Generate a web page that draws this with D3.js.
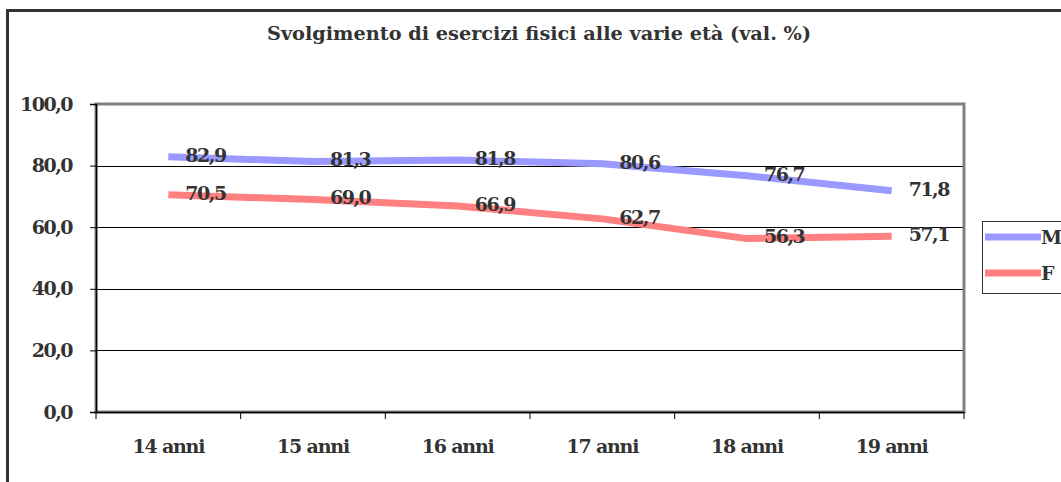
<!DOCTYPE html>
<html><head><meta charset="utf-8">
<script src="https://cdn.jsdelivr.net/npm/d3@7"></script>
<style>
html,body{margin:0;padding:0;background:#fff;}
svg{display:block;}
text{font-family:"DejaVu Serif",serif;font-weight:bold;fill:#333;}
</style></head>
<body>
<script>
const categories = ["14 anni","15 anni","16 anni","17 anni","18 anni","19 anni"];
const seriesM = [82.9, 81.3, 81.8, 80.6, 76.7, 71.8];
const seriesF = [70.5, 69.0, 66.9, 62.7, 56.3, 57.1];
const seriesNames = ["M","F"];
const yTicks = [0,20,40,60,80,100];
const title = "Svolgimento di esercizi fisici alle varie età (val. %)";

(function(){
const W = 1061, H = 482;
const svg = d3.select("body").append("svg").attr("width", W).attr("height", H);
const fmt = v => d3.format(".1f")(v).replace(".", ",");

// outer border
svg.append("rect").attr("x", 7.5).attr("y", 10.5).attr("width", W + 10).attr("height", H + 10)
  .attr("fill", "none").attr("stroke", "#333").attr("stroke-width", 3);

const pL = 96, pR = 964, pT = 104, pB = 412;
const x = d3.scaleBand().domain(categories).range([pL, pR]);
const y = d3.scaleLinear().domain([0, 100]).range([pB, pT]);

svg.append("text").attr("x", 539).attr("y", 40).attr("text-anchor", "middle")
  .style("font-size", "19.3px").text(title);

// gridlines
svg.append("g").selectAll("line").data(yTicks.filter(t => t > 0 && t < 100)).join("line")
  .attr("x1", pL).attr("x2", pR).attr("y1", d => Math.round(y(d)) + 0.5).attr("y2", d => Math.round(y(d)) + 0.5)
  .attr("stroke", "#000").attr("stroke-width", 1);

// plot frame (gray)
svg.append("rect").attr("x", pL).attr("y", pT).attr("width", pR - pL).attr("height", pB - pT)
  .attr("fill", "none").attr("stroke", "#808080").attr("stroke-width", 3);

// y axis
const yAxis = d3.axisLeft(y).tickValues(yTicks).tickSize(6).tickPadding(18).tickFormat(fmt);
const gy = svg.append("g").attr("transform", `translate(${pL},0)`).call(yAxis);
gy.attr("font-family", null).attr("font-size", null);
gy.select(".domain").attr("stroke", "#000").attr("stroke-width", 1.5);
gy.selectAll(".tick line").attr("stroke", "#000");
gy.selectAll("text").style("font-size", "19px").attr("fill", "#333").attr("letter-spacing", "-1.5");

// x axis
const xAxis = d3.axisBottom(x).tickSize(0).tickPadding(28);
const gx = svg.append("g").attr("transform", `translate(0,${pB})`).call(xAxis);
gx.attr("font-family", null).attr("font-size", null);
gx.select(".domain").attr("stroke", "#000").attr("stroke-width", 1.5);
gx.selectAll("text").style("font-size", "19px").attr("fill", "#333").attr("letter-spacing", "-1.2");
gx.selectAll(".bt").data(categories.concat([null])).join("line").attr("class", "bt")
  .attr("x1", (d, i) => pL + i * x.step()).attr("x2", (d, i) => pL + i * x.step())
  .attr("y1", 0).attr("y2", 7).attr("stroke", "#000");

const cx = d => x(d) + x.bandwidth() / 2;
const line = d3.line().x((d, i) => cx(categories[i])).y(d => y(d));
const colors = {"M": "#9999FF", "F": "#FF8080"};
const data = {"M": seriesM, "F": seriesF};

seriesNames.forEach(n => {
  svg.append("path").datum(data[n]).attr("d", line).attr("fill", "none")
    .attr("stroke", colors[n]).attr("stroke-width", 7).attr("stroke-linejoin", "round");
});
seriesNames.forEach(n => {
  svg.append("g").selectAll("text").data(data[n]).join("text")
    .attr("x", (d, i) => cx(categories[i]) + 17).attr("y", d => y(d) - 2).attr("dy", "0.36em")
    .attr("letter-spacing", "-1.5")
    .style("font-size", "19px").text(d => fmt(d));
});

// legend
svg.append("rect").attr("x", 982.5).attr("y", 221.5).attr("width", 100).attr("height", 72)
  .attr("fill", "#fff").attr("stroke", "#333").attr("stroke-width", 1);
seriesNames.forEach((n, i) => {
  const ly = 237 + i * 36;
  svg.append("line").attr("x1", 985).attr("x2", 1041).attr("y1", ly).attr("y2", ly)
    .attr("stroke", colors[n]).attr("stroke-width", 7);
  svg.append("text").attr("x", 1041).attr("y", ly).attr("dy", "0.36em").style("font-size", "19px").text(n);
});
})();
</script>
</body></html>
